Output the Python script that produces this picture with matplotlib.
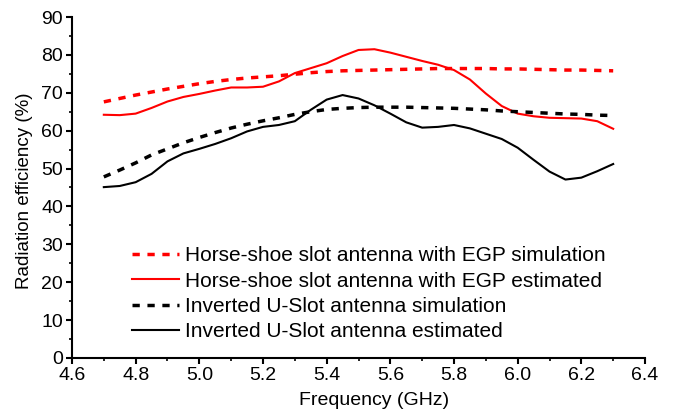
import matplotlib
matplotlib.use("Agg")
import matplotlib.pyplot as plt
from matplotlib.ticker import MultipleLocator

plt.rcParams['font.family'] = ['Liberation Sans', 'DejaVu Sans']

freq = [4.70, 4.75, 4.80, 4.85, 4.90, 4.95, 5.00, 5.05, 5.10, 5.15, 5.20,
        5.25, 5.30, 5.35, 5.40, 5.45, 5.50, 5.55, 5.60, 5.65, 5.70, 5.75,
        5.80, 5.85, 5.90, 5.95, 6.00, 6.05, 6.10, 6.15, 6.20, 6.25, 6.30]

horseshoe_sim = [67.6, 68.5, 69.4, 70.2, 71.0, 71.7, 72.4, 73.0, 73.5, 73.9, 74.2,
                 74.5, 74.9, 75.3, 75.6, 75.8, 75.9, 76.0, 76.1, 76.2, 76.3, 76.4,
                 76.4, 76.4, 76.4, 76.3, 76.3, 76.2, 76.1, 76.0, 76.0, 75.9, 75.8]

horseshoe_est = [64.2, 64.1, 64.5, 66.0, 67.7, 68.9, 69.7, 70.6, 71.4, 71.4, 71.6,
                 73.0, 75.2, 76.5, 77.8, 79.7, 81.3, 81.5, 80.6, 79.5, 78.4, 77.4,
                 76.0, 73.5, 69.8, 66.5, 64.5, 63.8, 63.4, 63.3, 63.2, 62.5, 60.5]

ushape_sim = [47.8, 49.6, 51.5, 53.6, 55.2, 56.8, 58.2, 59.5, 60.7, 61.7, 62.6,
              63.4, 64.3, 65.0, 65.6, 65.9, 66.1, 66.2, 66.2, 66.2, 66.1, 66.0,
              65.9, 65.7, 65.5, 65.2, 65.0, 64.8, 64.6, 64.4, 64.3, 64.1, 64.0]

ushape_est = [45.1, 45.4, 46.4, 48.6, 51.9, 54.0, 55.2, 56.5, 58.0, 59.8, 61.0,
              61.5, 62.5, 65.5, 68.2, 69.4, 68.5, 66.7, 64.5, 62.2, 60.8, 61.0,
              61.5, 60.6, 59.2, 57.8, 55.5, 52.3, 49.2, 47.1, 47.6, 49.3, 51.2]

labels = ["Horse-shoe slot antenna with EGP simulation",
          "Horse-shoe slot antenna with EGP estimated",
          "Inverted U-Slot antenna simulation",
          "Inverted U-Slot antenna estimated"]

fig = plt.figure(figsize=(6.74, 4.11), dpi=100)
ax = fig.add_axes([0.1068, 0.129, 0.8502, 0.8296])

dash = (2.1, 2.2)
ax.plot(freq, horseshoe_sim, color='#ff0000', lw=2.5, linestyle=(0, dash),
        dash_capstyle='butt', label=labels[0])
ax.plot(freq, horseshoe_est, color='#ff0000', lw=1.5, solid_joinstyle='round',
        label=labels[1])
ax.plot(freq, ushape_sim, color='black', lw=2.5, linestyle=(0, dash),
        dash_capstyle='butt', label=labels[2])
ax.plot(freq, ushape_est, color='black', lw=1.5, solid_joinstyle='round',
        label=labels[3])

ax.set_xlim(4.6, 6.4)
ax.set_ylim(0, 90)
ax.xaxis.set_major_locator(MultipleLocator(0.2))
ax.xaxis.set_minor_locator(MultipleLocator(0.1))
ax.yaxis.set_major_locator(MultipleLocator(10))
ax.yaxis.set_minor_locator(MultipleLocator(5))
ax.xaxis.set_major_formatter(plt.FormatStrFormatter('%.1f'))

for side in ('top', 'right'):
    ax.spines[side].set_visible(False)
for side in ('left', 'bottom'):
    ax.spines[side].set_linewidth(1.5)

ax.tick_params(which='major', direction='out', length=4.5, width=1.5,
               labelsize=14, pad=2)
ax.tick_params(which='minor', direction='out', length=2.5, width=1.2)

ax.set_xlabel("Frequency (GHz)", fontsize=14)
ax.xaxis.set_label_coords(0.527, -0.1)
ax.set_ylabel("Radiation efficiency (%)", fontsize=13.5)
ax.yaxis.set_label_coords(-0.068, 0.49)

leg = ax.legend(loc='upper left', bbox_to_anchor=(0.104, 0.327), frameon=False,
                fontsize=15, handlelength=2.3, handletextpad=0.25,
                labelspacing=0.3, borderaxespad=0, borderpad=0)

fig.savefig("out.png", dpi=100)
